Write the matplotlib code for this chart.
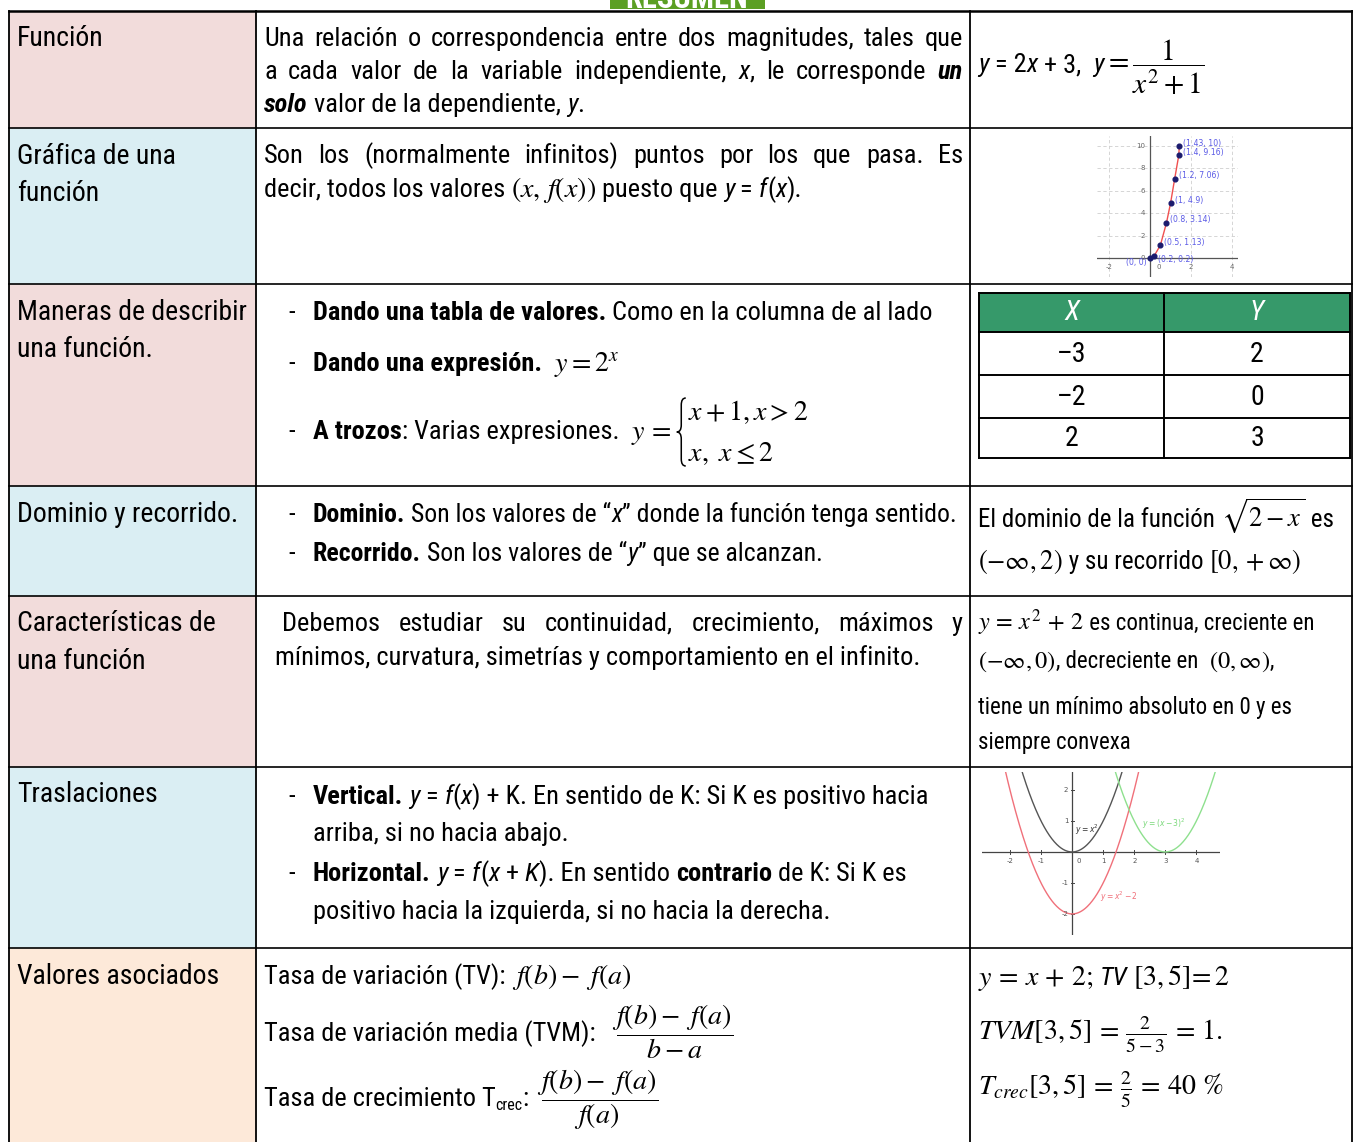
import re
import numpy as np
import matplotlib
matplotlib.use("Agg")
import matplotlib.pyplot as plt
from matplotlib import font_manager
from matplotlib.path import Path
from matplotlib.patches import PathPatch, Rectangle

W, H = 1353, 1142


def pick_font(names):
    for n in names:
        try:
            font_manager.findfont(font_manager.FontProperties(family=n),
                                  fallback_to_default=False)
            return n
        except Exception:
            pass
    return "DejaVu Sans"


FONT = pick_font(["Liberation Sans Narrow", "Roboto Condensed", "Liberation Sans"])
FS = 19
FT = 20  # titles in the left column

# Table layout data
row_edges = [11, 128, 284, 486, 596, 767, 948, 1142]
col_edges = [9, 256, 970, 1352]
row_titles = [["Función"], ["Gráfica de una", "función"],
              ["Maneras de describir", "una función."], ["Dominio y recorrido."],
              ["Características de", "una función"], ["Traslaciones"],
              ["Valores asociados"]]
title_colors = ["#f2dcdb", "#daeef3", "#f2dcdb", "#daeef3", "#f2dcdb",
                "#daeef3", "#fde9d9"]

# Small table of values (row 3)
tabla_header = ["X", "Y"]
tabla_x = ["–3", "–2", "2"]
tabla_y = ["2", "0", "3"]

# Points of the first graph
g1_x = [0, 0.2, 0.5, 0.8, 1.0, 1.2, 1.4, 1.43]
g1_y = [0, 0.2, 1.13, 3.14, 4.9, 7.06, 9.16, 10]
g1_labels = ["(0, 0)", "(0.2, 0.2)", "(0.5, 1.13)", "(0.8, 3.14)", "(1, 4.9)",
             "(1.2, 7.06)", "(1.4, 9.16)", "(1.43, 10)"]

# Translations graph: base parabola and shifts
g2_shifts = [(0, 0), (0, -2), (3, 0)]   # (horizontal, vertical)
g2_colors = ["#555555", "#f0707a", "#8ee08e"]
g2_labels = ["$y = x^2$", "$y = x^2 - 2$", "$y = (x - 3)^2$"]

fig = plt.figure(figsize=(W / 100, H / 100), dpi=100)
ax = fig.add_axes([0, 0, 1, 1])
ax.set_xlim(0, W)
ax.set_ylim(H, 0)
ax.axis("off")
R = fig.canvas.get_renderer()

TOK = re.compile(r'(\$[^$]*\$|\{(?:bi|b|i):[^}]*\})')


def parse(s):
    out = []
    for part in TOK.split(s):
        if not part:
            continue
        if part.startswith('$'):
            out.append((part, 'm'))
        elif part.startswith('{') and part.endswith('}') and ':' in part:
            st, txt = part[1:-1].split(':', 1)
            out.append((txt, st))
        else:
            out.append((part, 'n'))
    return out


def props(style, size):
    if style == 'm':
        return dict(size=size * 1.06, math_fontfamily='stix', color='black')
    p = dict(family=FONT, size=size, color='black')
    if 'i' in style:
        p['fontstyle'] = 'italic'
    if 'b' in style:
        p['fontweight'] = 'bold'
    return p


def measure(txt, p):
    if txt.startswith('$'):
        t = ax.text(0, 0, txt, **p)
        w = t.get_window_extent(R).width
        t.remove()
        return w
    t1 = ax.text(0, 0, '|' + txt + '|', **p)
    t2 = ax.text(0, 0, '||', **p)
    w = t1.get_window_extent(R).width - t2.get_window_extent(R).width
    t1.remove()
    t2.remove()
    return w


def run_pieces(x, y, pieces, size):
    for txt, st in pieces:
        p = props(st, size)
        ax.text(x, y, txt, ha='left', va='baseline', **p)
        x += measure(txt, p)
    return x


def run(x, y, s, size=FS):
    return run_pieces(x, y, parse(s), size)


def justify(x0, x1, y, s, size=FS):
    words = s.split(' ')
    parts = [parse(w) for w in words]
    widths = [sum(measure(t, props(st, size)) for t, st in pw) for pw in parts]
    gap = (x1 - x0 - sum(widths)) / (len(words) - 1)
    x = x0
    for pw, w in zip(parts, widths):
        run_pieces(x, y, pw, size)
        x += w + gap


def brace(x, y0, y1, w=9):
    ym = (y0 + y1) / 2
    xm = x - w / 2
    verts = [(x, y0), (xm, y0), (xm, y0 + 7), (xm, ym - 7), (xm, ym), (x - w, ym),
             (xm, ym), (xm, ym + 7), (xm, y1 - 7), (xm, y1), (x, y1)]
    codes = [Path.MOVETO, Path.CURVE3, Path.CURVE3, Path.LINETO, Path.CURVE3,
             Path.CURVE3, Path.CURVE3, Path.CURVE3, Path.LINETO, Path.CURVE3,
             Path.CURVE3]
    ax.add_patch(PathPatch(Path(verts, codes), fill=False, lw=1.1, color='black'))


# ---- green tab at the top (cut off by the page edge)
ax.add_patch(Rectangle((610, -5), 155, 14, color="#5b9f23", lw=0))
ax.text(687, 8, "RESUMEN", ha='center', va='baseline', family=FONT, size=22,
        fontweight='bold', color='white', clip_on=True)

# ---- left column fills
for i, c in enumerate(title_colors):
    ax.add_patch(Rectangle((col_edges[0], row_edges[i]), col_edges[1] - col_edges[0],
                           row_edges[i + 1] - row_edges[i], color=c, lw=0))

# ---- grid lines
ax.plot([col_edges[0], col_edges[-1]], [row_edges[0]] * 2, color='black', lw=1.8)
for y in row_edges[1:-1]:
    ax.plot([col_edges[0], col_edges[-1]], [y, y], color='black', lw=1.2)
for x in col_edges:
    ax.plot([x, x], [row_edges[0], H + 5], color='black', lw=1.3)

# ---- left column titles
title_base = [[46], [164, 201], [320, 357], [522], [631, 669], [802], [984]]
for lines, bases in zip(row_titles, title_base):
    for t, b in zip(lines, bases):
        ax.text(17, b, t, ha='left', va='baseline', family=FONT, size=FT)

# ---- row 1
XL, XR = 264, 963
justify(XL, XR, 46, "Una relación o correspondencia entre dos magnitudes, tales que")
justify(XL, XR, 79, "a cada valor de la variable independiente, {i:x}, le corresponde {bi:un}")
run(XL, 112, "{bi:solo} valor de la dependiente, {i:y}.")
x = run(978, 72, "{i:y} = 2{i:x} + 3,  {i:y}")
ax.text(x + 1, 72, r"$=\dfrac{1}{x^2+1}$", ha='left', va='baseline', size=FS * 1.12,
        math_fontfamily='stix')

# ---- row 2
justify(XL, XR, 163, "Son los (normalmente infinitos) puntos por los que pasa. Es")
run(XL, 197, r"decir, todos los valores $\left(x,\,f\left(x\right)\right)$ puesto que "
             r"{i:y} = {i:f}({i:x}).")

g1 = fig.add_axes([1097 / W, 1 - 277 / H, 141 / W, 141 / H])
g1.set_xlim(-2.6, 4.3)
g1.set_ylim(-1.7, 10.9)
g1.axis("off")
for gx in [-2, 2, 4]:
    g1.axvline(gx, color='#cfcfcf', lw=0.6, ls=(0, (4, 3)))
for gy in [2, 4, 6, 8, 10]:
    g1.axhline(gy, color='#cfcfcf', lw=0.6, ls=(0, (4, 3)))
g1.axhline(0, color='#555555', lw=0.9)
g1.axvline(0, color='#555555', lw=0.9)
for gx in [-2, 2, 4]:
    g1.text(gx, -0.5, str(gx), ha='center', va='top', size=5, color='#666666')
g1.text(0.3, -0.5, "0", ha='left', va='top', size=5, color='#666666')
for gy in [0, 2, 4, 6, 8, 10]:
    g1.text(-0.25, gy, str(gy), ha='right', va='center', size=5, color='#666666')
g1.plot(g1_x, g1_y, color='#f05050', lw=1.0)
g1.plot(g1_x, g1_y, 'o', color='#1b1b6e', ms=3.4)
for px, py, lab in zip(g1_x, g1_y, g1_labels):
    if lab == "(0, 0)":
        g1.annotate(lab, (px, py), xytext=(-4, -5), textcoords='offset pixels',
                    ha='right', va='center', size=5.6, color='#5a5ae6')
    else:
        dy = -4 if lab == "(0.2, 0.2)" else 3
        g1.annotate(lab, (px, py), xytext=(4, dy), textcoords='offset pixels',
                    ha='left', va='center', size=5.6, color='#5a5ae6')

# ---- row 3
run(288, 320, "-")
run(313, 320, "{b:Dando una tabla de valores.} Como en la columna de al lado")
run(288, 371, "-")
run(313, 371, "{b:Dando una expresión.}  $y=2^x$")
run(288, 439, "-")
x = run(313, 439, "{b:A trozos}: Varias expresiones.  $y\,=$")
brace(x + 14, 398, 466)
run(x + 16, 420, r"$x+1,x>2$")
run(x + 16, 461, r"$x,\ x\leq 2$")

tx0, tx1, txm = 979, 1350, 1164
ty = [293, 332, 375, 418, 458]
ax.add_patch(Rectangle((tx0, ty[0]), tx1 - tx0, ty[1] - ty[0], color="#36996a", lw=0))
for yy in ty:
    ax.plot([tx0, tx1], [yy, yy], color='black', lw=1.4)
for xx in [tx0, txm, tx1]:
    ax.plot([xx, xx], [ty[0], ty[-1]], color='black', lw=1.4)
for j, h in enumerate(tabla_header):
    ax.text([(tx0 + txm) / 2, (txm + tx1) / 2][j], (ty[0] + ty[1]) / 2 + 1, h,
            ha='center', va='center', family=FONT, size=FT, fontstyle='italic',
            color='white')
for i in range(len(tabla_x)):
    yc = (ty[i + 1] + ty[i + 2]) / 2 + 1
    ax.text((tx0 + txm) / 2, yc, tabla_x[i], ha='center', va='center',
            family=FONT, size=FT)
    ax.text((txm + tx1) / 2, yc, tabla_y[i], ha='center', va='center',
            family=FONT, size=FT)

# ---- row 4
run(288, 522, "-")
run(313, 522, "{b:Dominio.} Son los valores de “{i:x}” donde la función tenga sentido.", 18.5)
run(288, 561, "-")
run(313, 561, "{b:Recorrido.} Son los valores de “{i:y}” que se alcanzan.", 18.5)
run(978, 527, r"El dominio de la función $\sqrt{2-x}$ es", 18)
run(978, 569, r"$\left(-\infty,2\right)$ y su recorrido $\left[0,+\infty\right)$", 18)

# ---- row 5
justify(282, XR, 631, "Debemos estudiar su continuidad, crecimiento, máximos y")
run(275, 665, "mínimos, curvatura, simetrías y comportamiento en el infinito.")
S5 = 16.5
run(978, 630, r"$y\,=\,x^2\,+\,2$ es continua, creciente en", S5)
run(978, 668, r"$\left(-\infty,0\right)$, decreciente en  $\left(0,\infty\right)$,", S5)
run(978, 714, "tiene un mínimo absoluto en 0 y es", S5)
run(978, 749, "siempre convexa", S5)

# ---- row 6
run(288, 804, "-")
run(313, 804, "{b:Vertical.} {i:y} = {i:f}({i:x}) + K. En sentido de K: Si K es positivo hacia")
run(313, 841, "arriba, si no hacia abajo.")
run(288, 881, "-")
run(313, 881, "{b:Horizontal.} {i:y} = {i:f}({i:x} + {i:K}). En sentido {b:contrario} de K: Si K es")
run(313, 919, "positivo hacia la izquierda, si no hacia la derecha.")

g2 = fig.add_axes([982 / W, 1 - 935 / H, 238 / W, 163 / H])
g2.set_xlim(-2.9, 4.76)
g2.set_ylim(-2.68, 2.58)
g2.axis("off")
g2.axhline(0, color='#444444', lw=0.9)
g2.axvline(0, color='#444444', lw=0.9)
for gx in [-2, -1, 1, 2, 3, 4]:
    g2.plot([gx, gx], [-0.05, 0.05], color='#444444', lw=0.7)
    g2.text(gx, -0.2, str(gx), ha='center', va='top', size=5, color='#555555')
g2.text(0.15, -0.2, "0", ha='left', va='top', size=5, color='#555555')
for gy in [-2, -1, 1, 2]:
    g2.plot([-0.05, 0.05], [gy, gy], color='#444444', lw=0.7)
    g2.text(-0.12, gy, str(gy), ha='right', va='center', size=5, color='#555555')
xs = np.linspace(-3, 5, 400)
for (hs, vs), c in zip(g2_shifts, g2_colors):
    g2.plot(xs, (xs - hs) ** 2 + vs, color=c, lw=1.0)
g2.text(0.1, 0.7, g2_labels[0], size=5.5, color='#333333', ha='left', va='center')
g2.text(0.9, -1.45, g2_labels[1], size=5.5, color='#f0707a', ha='left', va='center')
g2.text(2.25, 0.9, g2_labels[2], size=5.5, color='#7ad87a', ha='left', va='center')

# ---- row 7
run(XL, 984, r"Tasa de variación (TV): $f\left(b\right)-\ f\left(a\right)$")
x = run(XL, 1041, "Tasa de variación media (TVM):  ")
ax.text(x + 4, 1041, r"$\dfrac{f\left(b\right)-\ f\left(a\right)}{b-a}$", ha='left',
        va='baseline', size=FS * 1.06, math_fontfamily='stix')
x = run(XL, 1106, "Tasa de crecimiento T")
ax.text(x, 1110, "crec", ha='left', va='baseline', family=FONT, size=11.5)
x += measure("crec", dict(family=FONT, size=11.5))
x = run(x, 1106, ": ")
ax.text(x + 2, 1106, r"$\dfrac{f\left(b\right)-\ f\left(a\right)}{f\left(a\right)}$",
        ha='left', va='baseline', size=FS * 1.06, math_fontfamily='stix')

run(978, 985, r"$y\,=\,x\,+\,2;$ {i:TV} $\left[3,5\right]\!=2$")
run(978, 1041, r"$TVM[3,5]\,=\,\frac{2}{5-3}\,=\,1.$")
run(978, 1096, r"$T_{crec}[3,5]\,=\,\frac{2}{5}\,=\,40\ \%$")

fig.savefig("out.png", dpi=100)
